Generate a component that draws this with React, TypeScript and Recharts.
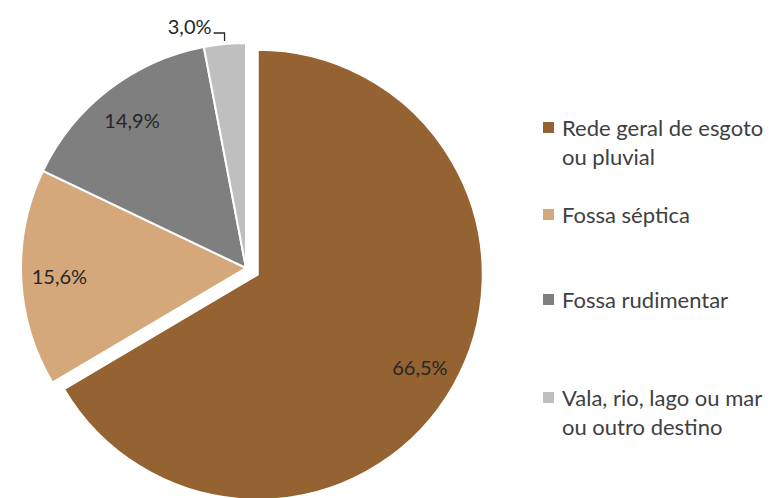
import React from 'react';
import { PieChart, Pie, Cell, Legend } from 'recharts';

// destino do esgoto, % dos domicílios
const categories = [
  'Rede geral de esgoto ou pluvial',
  'Fossa séptica',
  'Fossa rudimentar',
  'Vala, rio, lago ou mar ou outro destino',
];
const legendLines = [
  ['Rede geral de esgoto', 'ou pluvial'],
  ['Fossa séptica'],
  ['Fossa rudimentar'],
  ['Vala, rio, lago ou mar', 'ou outro destino'],
];
const shares = [66.5, 15.6, 14.9, 3.0];
const shareLabels = ['66,5%', '15,6%', '14,9%', '3,0%'];
const colors = ['#956331', '#D5A87B', '#7F7F7F', '#BFBFBF'];

const data = categories.map((name, i) => ({ name, value: shares[i] }));

const FONT = 'Lato, "Open Sans", sans-serif';
const RAD = Math.PI / 180;
const CX = 241;
const CY = 263;
const R = 225;
const EXPLODE = 13.5;

// the first slice is pulled out along its mid angle
const total = shares.reduce((a, b) => a + b, 0);
const firstMid = 90 - (shares[0] / total) * 180;
const exCx = CX + EXPLODE * Math.cos(firstMid * RAD);
const exCy = CY - EXPLODE * Math.sin(firstMid * RAD);

const renderLabel = (only: (i: number) => boolean) => (props: any) => {
  const { cx, cy, midAngle, outerRadius, index } = props;
  if (!only(index)) return null;
  if (shares[index] < 5) {
    // small slice: label outside with a bent leader
    const sx = cx + (outerRadius + 3) * Math.cos(-midAngle * RAD);
    const sy = cy + (outerRadius + 3) * Math.sin(-midAngle * RAD);
    const ky = sy - 8;
    const ex = sx - 11;
    return (
      <g>
        <polyline points={`${sx},${sy} ${sx},${ky} ${ex},${ky}`} fill="none" stroke="#262626" strokeWidth={1.3} />
        <text x={ex - 2} y={ky + 1} textAnchor="end" fontFamily={FONT} fontSize={20} fill="#262626">
          {shareLabels[index]}
        </text>
      </g>
    );
  }
  const r = outerRadius * 0.83;
  const x = cx + r * Math.cos(-midAngle * RAD);
  const y = cy + r * Math.sin(-midAngle * RAD);
  return (
    <text x={x} y={y} textAnchor="middle" dominantBaseline="central" fontFamily={FONT} fontSize={20} fill="#262626">
      {shareLabels[index]}
    </text>
  );
};

const slotHeights = [87, 85, 98, 60];

const LegendBox = () => (
  <div style={{ fontFamily: FONT, fontSize: 22, color: '#404040', lineHeight: '29px' }}>
    {legendLines.map((lines, i) => (
      <div key={i} style={{ height: slotHeights[i], display: 'flex', alignItems: 'flex-start' }}>
        <div style={{ width: 11, height: 11, background: colors[i], marginTop: 9, marginRight: 8, flexShrink: 0 }} />
        <div>
          {lines.map((l, j) => (
            <div key={j} style={{ whiteSpace: 'nowrap' }}>{l}</div>
          ))}
        </div>
      </div>
    ))}
  </div>
);

export default function App() {
  return (
    <div style={{ position: 'absolute', left: 0, top: 0, width: 771, height: 498, background: '#fff' }}>
      <PieChart width={771} height={498}>
        <Pie
          data={data}
          dataKey="value"
          nameKey="name"
          cx={CX}
          cy={CY}
          outerRadius={R}
          startAngle={90}
          endAngle={-270}
          isAnimationActive={false}
          labelLine={false}
          label={renderLabel((i) => i !== 0)}
        >
          {data.map((_, i) => (
            <Cell
              key={i}
              fill={i === 0 ? 'none' : colors[i]}
              stroke={i === 0 ? 'none' : '#fff'}
              strokeWidth={2}
            />
          ))}
        </Pie>
        <Pie
          data={data}
          dataKey="value"
          nameKey="name"
          cx={exCx}
          cy={exCy}
          outerRadius={R}
          startAngle={90}
          endAngle={-270}
          isAnimationActive={false}
          labelLine={false}
          label={renderLabel((i) => i === 0)}
        >
          {data.map((_, i) => (
            <Cell
              key={i}
              fill={i === 0 ? colors[0] : 'none'}
              stroke={i === 0 ? '#fff' : 'none'}
              strokeWidth={2}
            />
          ))}
        </Pie>
        <Legend
          content={() => <LegendBox />}
          wrapperStyle={{ left: 543, top: 113, width: 228 }}
        />
      </PieChart>
    </div>
  );
}
